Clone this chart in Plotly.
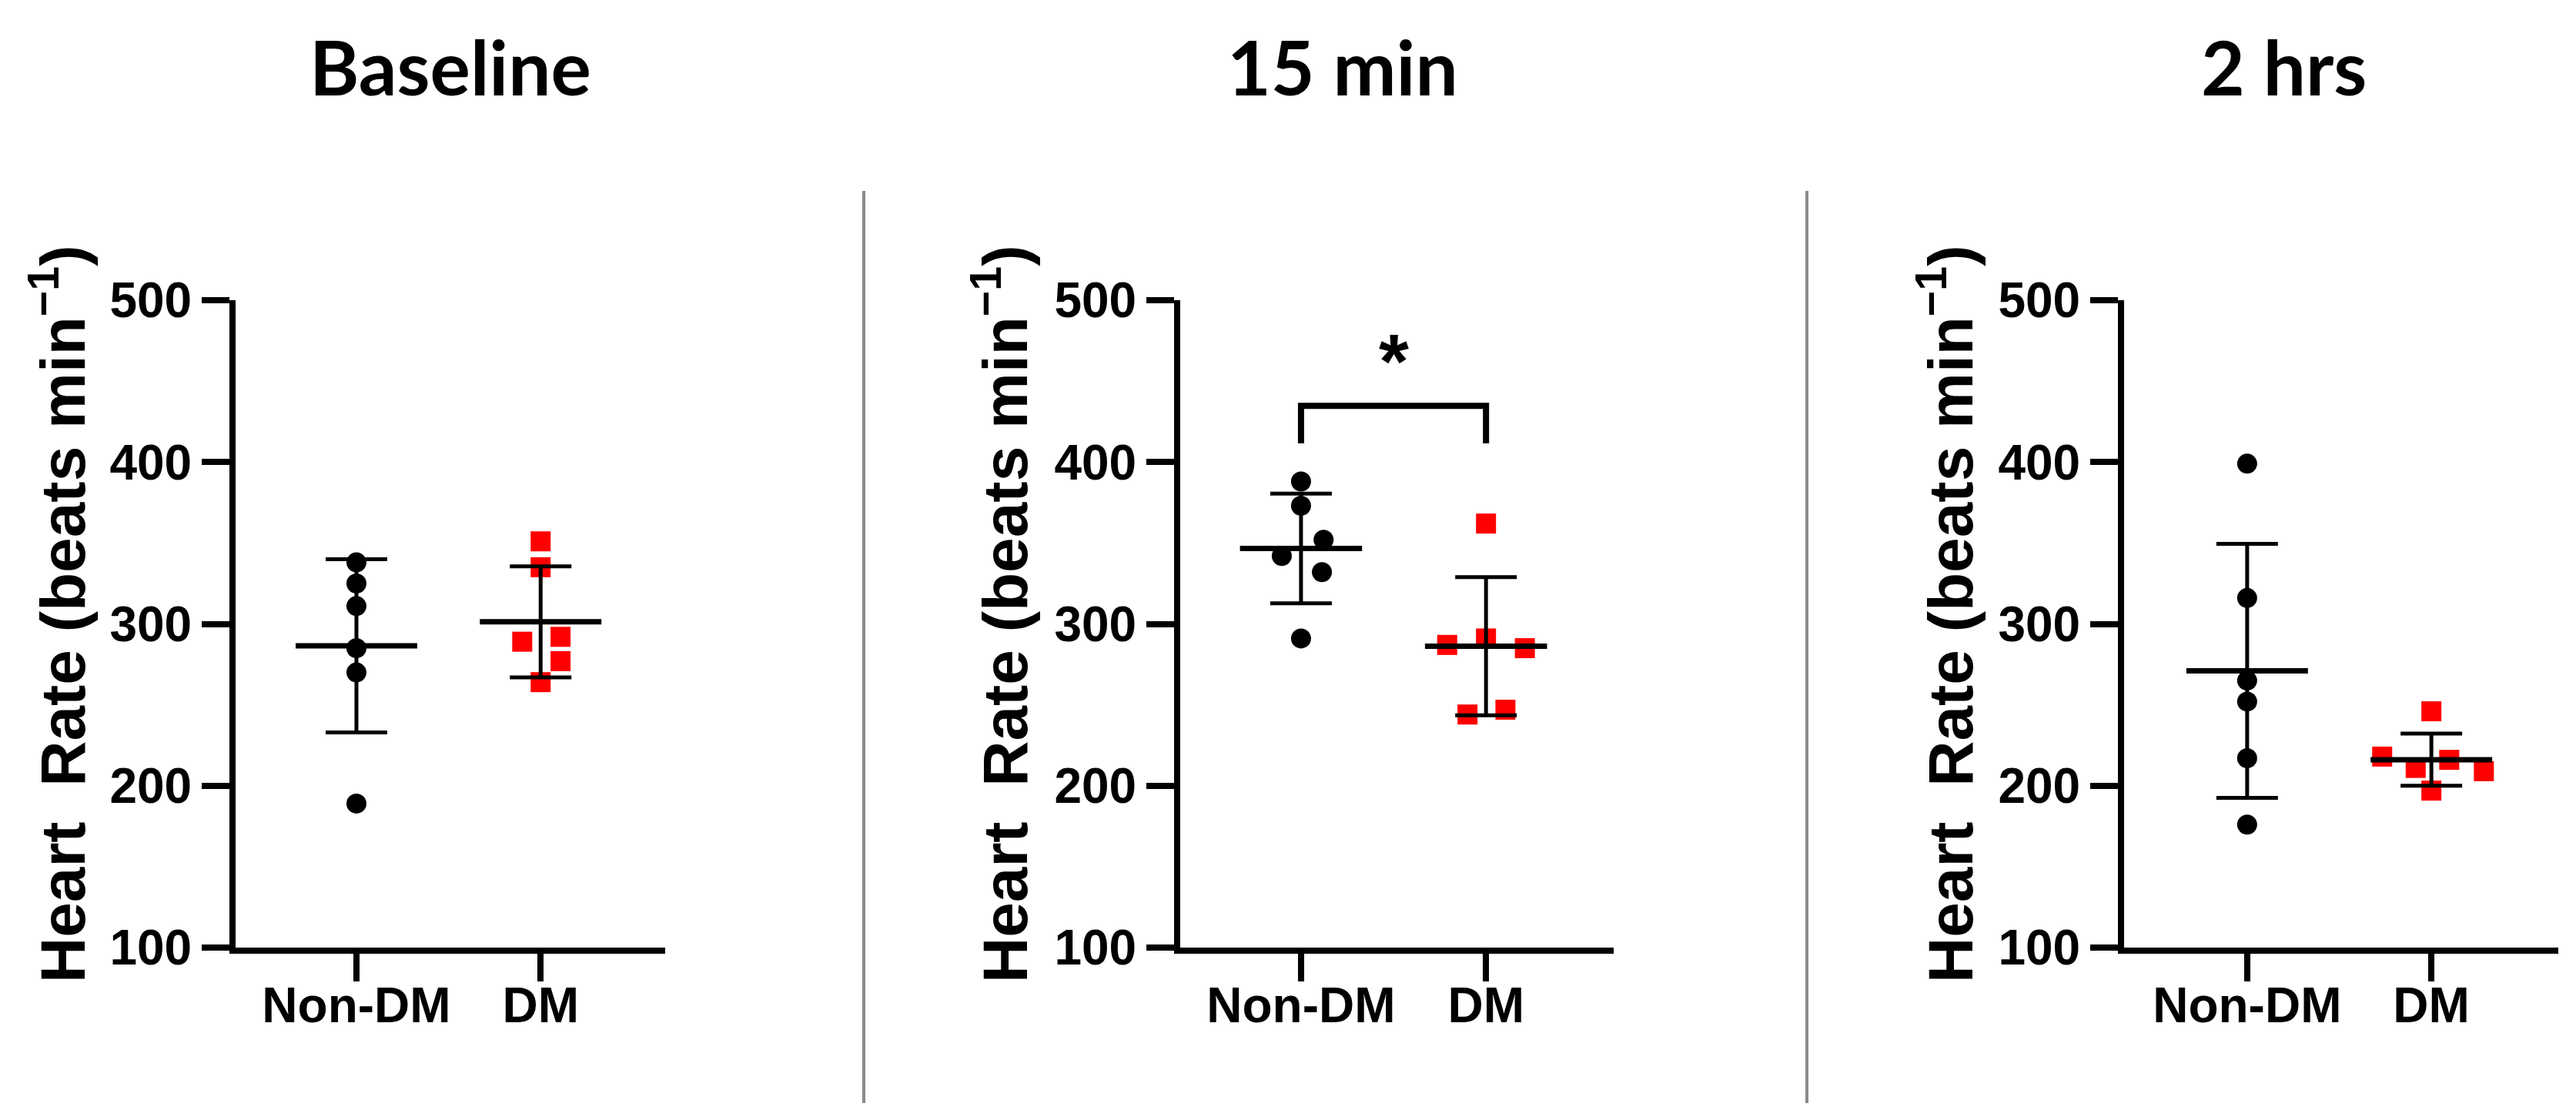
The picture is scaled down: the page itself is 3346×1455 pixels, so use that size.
import plotly.graph_objects as go

W, H = 3346, 1455

# ---------------- data ----------------
panel_titles = ["Baseline", "15 min", "2 hrs"]
groups = ["Non-DM", "DM"]
y_ticks = [100, 200, 300, 400, 500]
y_title = "Heart\u00a0\u00a0Rate (beats min<sup>\u22121</sup>)"

base_nondm = [338, 325, 311, 285, 270, 189]
base_dm = [351, 335, 292, 289, 277, 264]
min15_nondm = [388, 373, 352, 342, 332, 291]
min15_dm = [362, 291, 287, 285, 247, 244]
hrs2_nondm = [399, 316, 265, 252, 217, 176]
hrs2_dm = [246, 218, 216, 211, 209, 197]

# group mean and SD as drawn (Non-DM, DM)
base_mean = [286.4, 301.3]
base_sd = [53.5, 34.3]
min15_mean = [346.6, 286.2]
min15_sd = [33.9, 42.7]
hrs2_mean = [271.0, 216.1]
hrs2_sd = [78.5, 16.1]

sig_label = "*"

# ---------------- layout / style constants ----------------
# horizontal scatter of points inside each column (category units)
jitter = [
    ([0, 0, 0, 0, 0, 0], [0, 0, 0.108, -0.10, 0.108, 0]),
    ([0, 0, 0.122, -0.104, 0.113, 0], [0, 0, -0.21, 0.21, 0.105, -0.10]),
    ([0, 0, 0, 0, 0, 0], [0, -0.267, 0.097, -0.085, 0.285, 0]),
]
values = [(base_nondm, base_dm), (min15_nondm, min15_dm), (hrs2_nondm, hrs2_dm)]
means = [base_mean, min15_mean, hrs2_mean]
sds = [base_sd, min15_sd, hrs2_sd]

# pixel geometry of each panel: y-axis x, x-axis right end, x range
px_left = [298, 1525, 2751]
px_right = [856, 2088, 3315]
x_ranges = [[-0.656, 1.676], [-0.653, 1.69], [-0.668, 1.689]]
y_top_px, y_bot_px = 382, 1223
title_cx = [577, 1736, 2958]
ytitle_cx = [68, 1292, 2520]
sep_x = [1114, 2339]

colors = ["#000000", "#FF0000"]
symbols = ["circle", "square"]
AX_W = 8
TICK_FONT = dict(family="Liberation Sans, Arial, sans-serif", size=64, color="black", weight="bold")
TITLE_FONT = dict(family="Lato, Carlito, sans-serif", size=98, color="black", weight="bold")
YT_FONT = dict(family="Liberation Sans, Arial, sans-serif", size=82, color="black", weight="bold")

fig = go.Figure()

for p in range(3):
    xa = "x" if p == 0 else f"x{p+1}"
    ya = "y" if p == 0 else f"y{p+1}"
    for g in range(2):
        vals = values[p][g]
        xs = [g + d for d in jitter[p][g]]
        fig.add_trace(go.Scatter(
            x=xs, y=vals, mode="markers", xaxis=xa, yaxis=ya,
            marker=dict(symbol=symbols[g], size=26, color=colors[g], line=dict(width=0)),
            showlegend=False, hoverinfo="y"))
    for g in range(2):
        fig.add_trace(go.Scatter(
            x=[g], y=[means[p][g]], mode="markers", xaxis=xa, yaxis=ya,
            marker=dict(size=1, color="rgba(0,0,0,0)"),
            error_y=dict(type="data", array=[sds[p][g]], visible=True,
                         color="black", thickness=5, width=40),
            showlegend=False, hoverinfo="skip"))
        fig.add_trace(go.Scatter(
            x=[g - 0.33, g + 0.33], y=[means[p][g]] * 2, mode="lines",
            xaxis=xa, yaxis=ya, line=dict(color="black", width=7),
            showlegend=False, hoverinfo="skip"))

# significance bracket on the 15 min panel
br_low, br_high, star_y = 411.5, 434.7, 462.6
fig.add_trace(go.Scatter(
    x=[0, 0, 1, 1], y=[br_low, br_high, br_high, br_low], mode="lines",
    xaxis="x2", yaxis="y2", line=dict(color="black", width=8),
    showlegend=False, hoverinfo="skip"))
fig.add_annotation(x=0.5, y=star_y, xref="x2", yref="y2", text=sig_label,
                   showarrow=False, xanchor="center", yanchor="middle",
                   font=dict(family="Liberation Sans, Arial, sans-serif", size=100,
                             color="black", weight="bold"))

layout = dict(
    template="none",
    width=W, height=H, margin=dict(l=0, r=0, t=0, b=0, autoexpand=False),
    paper_bgcolor="white", plot_bgcolor="white", showlegend=False,
)
ydom = [1 - y_bot_px / H, 1 - y_top_px / H]
for p in range(3):
    xk = "xaxis" if p == 0 else f"xaxis{p+1}"
    yk = "yaxis" if p == 0 else f"yaxis{p+1}"
    xname = "x" if p == 0 else f"x{p+1}"
    yname = "y" if p == 0 else f"y{p+1}"
    layout[xk] = dict(
        domain=[px_left[p] / W, px_right[p] / W], range=x_ranges[p], anchor=yname,
        tickmode="array", tickvals=[0, 1], ticktext=groups, automargin=False,
        showline=True, linecolor="black", linewidth=AX_W,
        ticks="outside", ticklen=36, tickwidth=AX_W, tickcolor="black",
        ticklabelstandoff=-24,
        showgrid=False, zeroline=False, tickfont=TICK_FONT, fixedrange=True)
    layout[yk] = dict(
        domain=ydom, range=[100, 500], anchor=xname, automargin=False,
        tickmode="array", tickvals=y_ticks,
        showline=True, linecolor="black", linewidth=AX_W,
        ticks="outside", ticklen=36, tickwidth=AX_W, tickcolor="black",
        showgrid=False, zeroline=False, tickfont=TICK_FONT, fixedrange=True)
fig.update_layout(**layout)

for p in range(3):
    fig.add_annotation(x=title_cx[p] / W, y=1 - 78 / H, xref="paper", yref="paper",
                       text=panel_titles[p], showarrow=False,
                       xanchor="center", yanchor="middle", font=TITLE_FONT)
    fig.add_annotation(x=ytitle_cx[p] / W, y=1 - 790 / H, xref="paper", yref="paper",
                       text=y_title, showarrow=False, textangle=-90,
                       xanchor="center", yanchor="middle", font=YT_FONT)

for sx in sep_x:
    fig.add_shape(type="line", xref="paper", yref="paper",
                  x0=sx / W, x1=sx / W, y0=1 - 1425 / H, y1=1 - 240 / H,
                  line=dict(color="#8a8a8a", width=4))

fig.write_html("out.html")
